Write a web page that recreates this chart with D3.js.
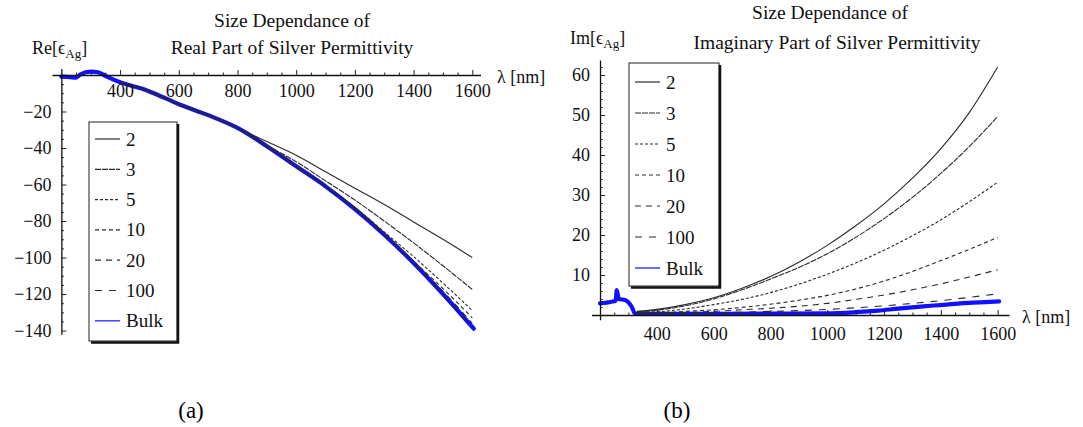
<!DOCTYPE html>
<html>
<head>
<meta charset="utf-8">
<script src="https://cdn.jsdelivr.net/npm/d3@7"></script>
<style>
  body { margin: 0; background: #fff; }
  svg { display: block; font-family: "Liberation Serif", "Times New Roman", serif; }
</style>
</head>
<body>
<svg id="fig" width="1083" height="427"></svg>
<script>
// Particle radii (nm) of the size-dependent curves
const radii = ["2", "3", "5", "10", "20", "100"];

// Wavelength grid (nm) for the size-dependent real part
const lamRe = [400, 500, 600, 700, 800, 900, 1000, 1100, 1200, 1300, 1400, 1500, 1600];
const re2   = [-4, -9, -16, -22, -29, -36.5, -44, -53, -62, -71, -80.5, -90, -100];
const re3   = [-4, -9, -16, -22, -29, -38.5, -47.5, -58, -68.5, -80, -92, -104.5, -117.5];
const re5   = [-4, -9, -16, -22, -29, -39, -49.5, -61, -72.5, -86, -99.5, -114, -129];
const re10  = [-4, -9, -16, -22, -29, -39, -50, -61, -73, -87, -102, -117, -133];
const re20  = [-4, -9, -16, -22, -29, -39, -50, -61, -73, -87, -102.5, -118.5, -136];
const re100 = [-4, -9, -16, -22, -29, -39, -50, -61, -73.5, -87.5, -103, -120, -138.5];

// Bulk silver, real part
const lamBulkRe = [200, 230, 250, 265, 300, 325, 355, 400, 470, 500, 600, 700, 800, 900, 1000, 1100, 1200, 1300, 1400, 1500, 1605];
const bulkRe    = [-0.9, -1.2, -1.5, 0.4, 1.8, 1.5, -0.9, -4.0, -7.3, -9.0, -16.0, -22.0, -29.0, -39.0, -50.0, -61.0, -73.5, -87.5, -103.0, -120.0, -139.0];

// Wavelength grid (nm) for the size-dependent imaginary part
const lamIm = [330, 400, 500, 600, 700, 800, 900, 1000, 1100, 1200, 1300, 1400, 1500, 1600];
const im2   = [0.9, 1.4, 2.6, 4.3, 6.7, 9.6, 13.2, 17.4, 22.3, 27.8, 34.2, 41.6, 50.6, 62.0];
const im3   = [0.8, 1.2, 2.3, 4.0, 6.3, 9.0, 11.9, 15.3, 19.4, 24.1, 29.4, 35.4, 42.1, 49.6];
const im5   = [0.6, 0.8, 1.5, 2.6, 3.9, 5.6, 7.7, 10.2, 13.0, 16.2, 19.8, 23.8, 28.3, 33.2];
const im10  = [0.4, 0.5, 0.9, 1.3, 1.9, 2.7, 3.7, 4.9, 6.5, 8.5, 10.9, 13.6, 16.4, 19.4];
const im20  = [0.35, 0.4, 0.6, 0.9, 1.3, 1.7, 2.2, 2.9, 3.9, 5.0, 6.3, 7.8, 9.5, 11.3];
const im100 = [0.3, 0.3, 0.4, 0.5, 0.7, 0.9, 1.1, 1.4, 1.8, 2.3, 2.9, 3.6, 4.4, 5.3];

// Bulk silver, imaginary part
const lamBulkIm = [200, 240, 255, 259, 266, 288, 312, 323, 400, 600, 800, 1000, 1100, 1180, 1250, 1355, 1450, 1605];
const bulkIm    = [2.9, 3.3, 3.6, 6.2, 4.0, 3.75, 2.0, 0.4, 0.3, 0.3, 0.35, 0.4, 0.7, 1.1, 1.6, 2.25, 2.8, 3.4];

// Tick labels
const lamTicks = [400, 600, 800, 1000, 1200, 1400, 1600];
const reTicks  = [-20, -40, -60, -80, -100, -120, -140];
const imTicks  = [10, 20, 30, 40, 50, 60];

// Line styles of the radius curves, in the order of `radii`
const dashes = ["none", "6,1", "3,2", "4,3", "6,5", "7,7"];

const svg = d3.select("#fig");
const fmtMinus = d => String(d).replace("-", "\u2212");
const SERIF = "Liberation Serif, Times New Roman, serif";

function drawPanel(p) {
  const g = svg.append("g");
  const x = d3.scaleLinear().domain(p.xDomain).range(p.xRange);
  const y = d3.scaleLinear().domain(p.yDomain).range(p.yRange);
  const y0 = y(0), x0 = x(200);
  const smooth = d3.line().curve(d3.curveMonotoneX).x(d => x(d[0])).y(d => y(d[1]));

  // bulk curve underneath
  g.append("path")
    .datum(d3.zip(p.bulkLam, p.bulkVal))
    .attr("fill", "none").attr("stroke", "#1010ff")
    .attr("stroke-width", 4.2).attr("stroke-linejoin", "round").attr("stroke-linecap", "round")
    .attr("d", smooth);

  // size-dependent curves on top
  g.selectAll("path.size").data(p.series).join("path")
    .attr("class", "size")
    .attr("fill", "none").attr("stroke", "#2a2a2a").attr("stroke-width", 1.1)
    .attr("stroke-dasharray", (d, i) => dashes[i])
    .attr("d", s => smooth(d3.zip(p.sizeLam, s)));

  // horizontal axis: ticks point up, labels below
  const minorX = d3.range(250, 1601, 50).filter(v => v % 200 !== 0);
  g.append("g").attr("transform", `translate(0,${y0})`)
    .call(d3.axisTop(x).tickValues(lamTicks).tickSize(5).tickSizeOuter(0).tickFormat(""));
  g.append("g").attr("transform", `translate(0,${y0})`)
    .call(d3.axisTop(x).tickValues(minorX).tickSize(2.5).tickFormat(""))
    .call(a => a.select(".domain").remove());
  g.append("g").attr("transform", `translate(0,${y0})`)
    .attr("font-family", SERIF).attr("font-size", 18)
    .call(d3.axisBottom(x).tickValues(lamTicks).tickSize(0).tickPadding(p.xPad).tickFormat(d3.format("d")))
    .attr("font-family", SERIF).attr("font-size", 18)
    .call(a => a.select(".domain").remove())
    .selectAll("text").attr("fill", "#111");

  // vertical axis: ticks point right, labels left
  g.append("g").attr("transform", `translate(${x0},0)`)
    .call(d3.axisRight(y).tickValues(p.yTicks).tickSize(5).tickSizeOuter(0).tickFormat(""));
  g.append("g").attr("transform", `translate(${x0},0)`)
    .call(d3.axisRight(y).tickValues(p.yMinor).tickSize(2.5).tickFormat(""))
    .call(a => a.select(".domain").remove());
  g.append("g").attr("transform", `translate(${x0},0)`)
    .call(d3.axisLeft(y).tickValues(p.yTicks).tickSize(0).tickPadding(10).tickFormat(fmtMinus))
    .attr("font-family", SERIF).attr("font-size", 18)
    .call(a => a.select(".domain").remove())
    .selectAll("text").attr("fill", "#111");

  g.selectAll(".domain").attr("stroke", "#111").attr("stroke-width", 1.3);
  g.selectAll(".tick line").attr("stroke", "#222");

  // titles
  const t = g.append("text").attr("font-size", 19.5).attr("fill", "#111").attr("text-anchor", "middle");
  t.append("tspan").attr("x", p.titleX[0]).attr("y", p.titleY[0]).text("Size Dependance of");
  t.append("tspan").attr("x", p.titleX[1]).attr("y", p.titleY[1]).text(p.title);

  // vertical axis name with subscript
  const yl = g.append("text").attr("x", p.yLabel[0]).attr("y", p.yLabel[1])
    .attr("font-size", 18).attr("fill", "#111");
  yl.append("tspan").text(p.yName + "[\u03F5");
  yl.append("tspan").attr("font-size", 13).attr("dy", 4).text("Ag");
  yl.append("tspan").attr("dy", -4).text("]");

  g.append("text").attr("x", p.xLabel[0]).attr("y", p.xLabel[1])
    .attr("font-size", 18).attr("fill", "#111").text("\u03BB [nm]");

  // legend
  const L = p.legend;
  const lg = g.append("g");
  lg.append("rect").attr("x", L.x).attr("y", L.y).attr("width", L.w).attr("height", L.h)
    .attr("fill", "#fff").attr("stroke", "#222").attr("stroke-width", 1);
  lg.append("path")
    .attr("d", `M${L.x + L.w + 1},${L.y + 2}V${L.y + L.h + 1.5}H${L.x + 2}`)
    .attr("fill", "none").attr("stroke", "#111").attr("stroke-width", 2.5);
  const items = radii.concat(["Bulk"]);
  const rows = lg.selectAll("g.row").data(items).join("g").attr("class", "row")
    .attr("transform", (d, i) => `translate(${L.x},${L.y0 + i * L.step})`);
  rows.append("line").attr("x1", 6).attr("x2", 31).attr("y1", 0).attr("y2", 0)
    .attr("stroke", (d, i) => i < 6 ? "#2a2a2a" : "#4a4aff")
    .attr("stroke-width", (d, i) => i < 6 ? 1.2 : 1.6)
    .attr("stroke-dasharray", (d, i) => i < 6 ? dashes[i] : "none");
  rows.append("text").attr("x", 37).attr("y", 6.5).attr("font-size", 19).attr("fill", "#111").text(d => d);
}

drawPanel({
  xDomain: [168, 1628], xRange: [52, 480.5],
  yDomain: [3.5, -142], yRange: [68.6, 334.2],
  yTicks: reTicks, yMinor: d3.range(-5, -141, -5).filter(v => v % 20 !== 0),
  xPad: 9,
  sizeLam: lamRe, series: [re2, re3, re5, re10, re20, re100],
  bulkLam: lamBulkRe, bulkVal: bulkRe,
  title: "Real Part of Silver Permittivity", titleX: [292, 292], titleY: [27, 54],
  yName: "Re", yLabel: [32, 54], xLabel: [497, 83],
  legend: { x: 89, y: 122, w: 88, h: 219, y0: 139, step: 30.3 }
});

drawPanel({
  xDomain: [170, 1640], xRange: [591.5, 1009],
  yDomain: [-1.2, 63.75], yRange: [319.8, 60],
  yTicks: imTicks, yMinor: d3.range(2, 63, 2).filter(v => v % 10 !== 0),
  xPad: 12,
  sizeLam: lamIm, series: [im2, im3, im5, im10, im20, im100],
  bulkLam: lamBulkIm, bulkVal: bulkIm,
  title: "Imaginary Part of Silver Permittivity", titleX: [830, 837], titleY: [19, 49],
  yName: "Im", yLabel: [570, 44], xLabel: [1022, 323],
  legend: { x: 629, y: 63, w: 90, h: 223, y0: 82, step: 31 }
});

// sub-figure captions
svg.append("text").attr("x", 191).attr("y", 418).attr("text-anchor", "middle")
  .attr("font-size", 23).attr("fill", "#000").text("(a)");
svg.append("text").attr("x", 677).attr("y", 418).attr("text-anchor", "middle")
  .attr("font-size", 23).attr("fill", "#000").text("(b)");
</script>
</body>
</html>
